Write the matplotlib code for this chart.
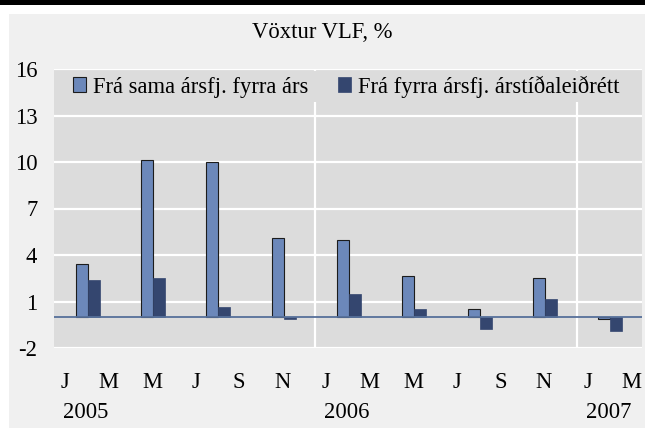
import matplotlib
matplotlib.use("Agg")
import matplotlib.pyplot as plt
import matplotlib.transforms as mtransforms
from matplotlib.patches import Rectangle, Patch

# ---- data ----
quarters = ["2005Q1", "2005Q2", "2005Q3", "2005Q4",
            "2006Q1", "2006Q2", "2006Q3", "2006Q4", "2007Q1"]
yoy = [3.4, 10.1, 10.0, 5.1, 5.0, 2.65, 0.5, 2.5, -0.15]
qoq = [2.4, 2.5, 0.65, -0.15, 1.5, 0.5, -0.8, 1.15, -0.9]
month_labels = ["J", "M", "M", "J", "S", "N",
                "J", "M", "M", "J", "S", "N",
                "J", "M"]
years = ["2005", "2006", "2007"]
yticks = [16, 13, 10, 7, 4, 1, -2]
series_names = ["Frá sama ársfj. fyrra árs", "Frá fyrra ársfj. árstíðaleiðrétt"]
title = "Vöxtur VLF, %"

plt.rcParams["font.family"] = ["Liberation Serif", "DejaVu Serif"]
FS = 16.3

W, H = 645, 428
fig = plt.figure(figsize=(W / 100, H / 100), dpi=100)
fig.patch.set_facecolor("white")
fig.add_artist(Rectangle((9 / W, 0), 1, 1 - 14 / H, transform=fig.transFigure,
                         facecolor="#f0f0f0", edgecolor="none", zorder=0))
fig.add_artist(Rectangle((0, 1 - 5 / H), 1, 5 / H, transform=fig.transFigure,
                         facecolor="black", edgecolor="none", zorder=0))

top_px, bot_px = 69, 348
ax = fig.add_axes([54 / W, 1 - bot_px / H, (642 - 54) / W, (bot_px - top_px) / H])
ax.set_facecolor("#dcdcdc")
for s in ax.spines.values():
    s.set_visible(False)

light = "#6c88ba"
dark = "#34466f"
bw = 0.55
centers = [3 * i + 1.55 for i in range(len(quarters))]
ax.bar([c - bw / 2 for c in centers], yoy, width=bw, color=light,
       edgecolor="#1c1c1c", linewidth=0.8, zorder=3)
ax.bar([c + bw / 2 for c in centers], qoq, width=bw, color=dark,
       edgecolor=dark, linewidth=0.5, zorder=3)

ax.set_xlim(0, 27)
ax.set_ylim(-2, 16)
for y in yticks:
    ax.axhline(y, color="white", lw=1.6, zorder=1)
for xv in (12, 24):
    ax.axvline(xv, color="white", lw=1.6, zorder=1)
ax.axhline(0, color="#56709a", lw=1.3, zorder=4)

ax.set_yticks(yticks)
ax.set_yticklabels([str(v) for v in yticks], fontsize=FS)
ax.set_xticks([0.5 + 2 * k for k in range(len(month_labels))])
ax.set_xticklabels(month_labels, fontsize=FS)
ax.tick_params(axis="y", length=0, pad=12)
ax.tick_params(axis="x", length=0, pad=17)

trans = mtransforms.blended_transform_factory(ax.transData, fig.transFigure)
for i, yr in enumerate(years):
    ax.text(12 * i + 0.42, 1 - 412 / H, yr, transform=trans, fontsize=FS,
            ha="left", va="center")

fig.text(0.5, 1 - 33 / H, title, fontsize=FS, ha="center", va="center")

handles = [Patch(facecolor=light, edgecolor="#1c1c1c", linewidth=0.8),
           Patch(facecolor=dark, edgecolor=dark, linewidth=0.5)]
leg = ax.legend(handles, series_names, loc="center", ncol=2,
                bbox_to_anchor=(0.497, 1 - (86.5 - top_px) / (bot_px - top_px)),
                fontsize=FS,
                frameon=True, facecolor="#dcdcdc", edgecolor="none",
                framealpha=1, fancybox=False, handlelength=0.6,
                handleheight=0.6, handletextpad=0.3, columnspacing=1.3,
                borderpad=0.2)
leg.set_zorder(5)

fig.savefig("out.png", dpi=100)
